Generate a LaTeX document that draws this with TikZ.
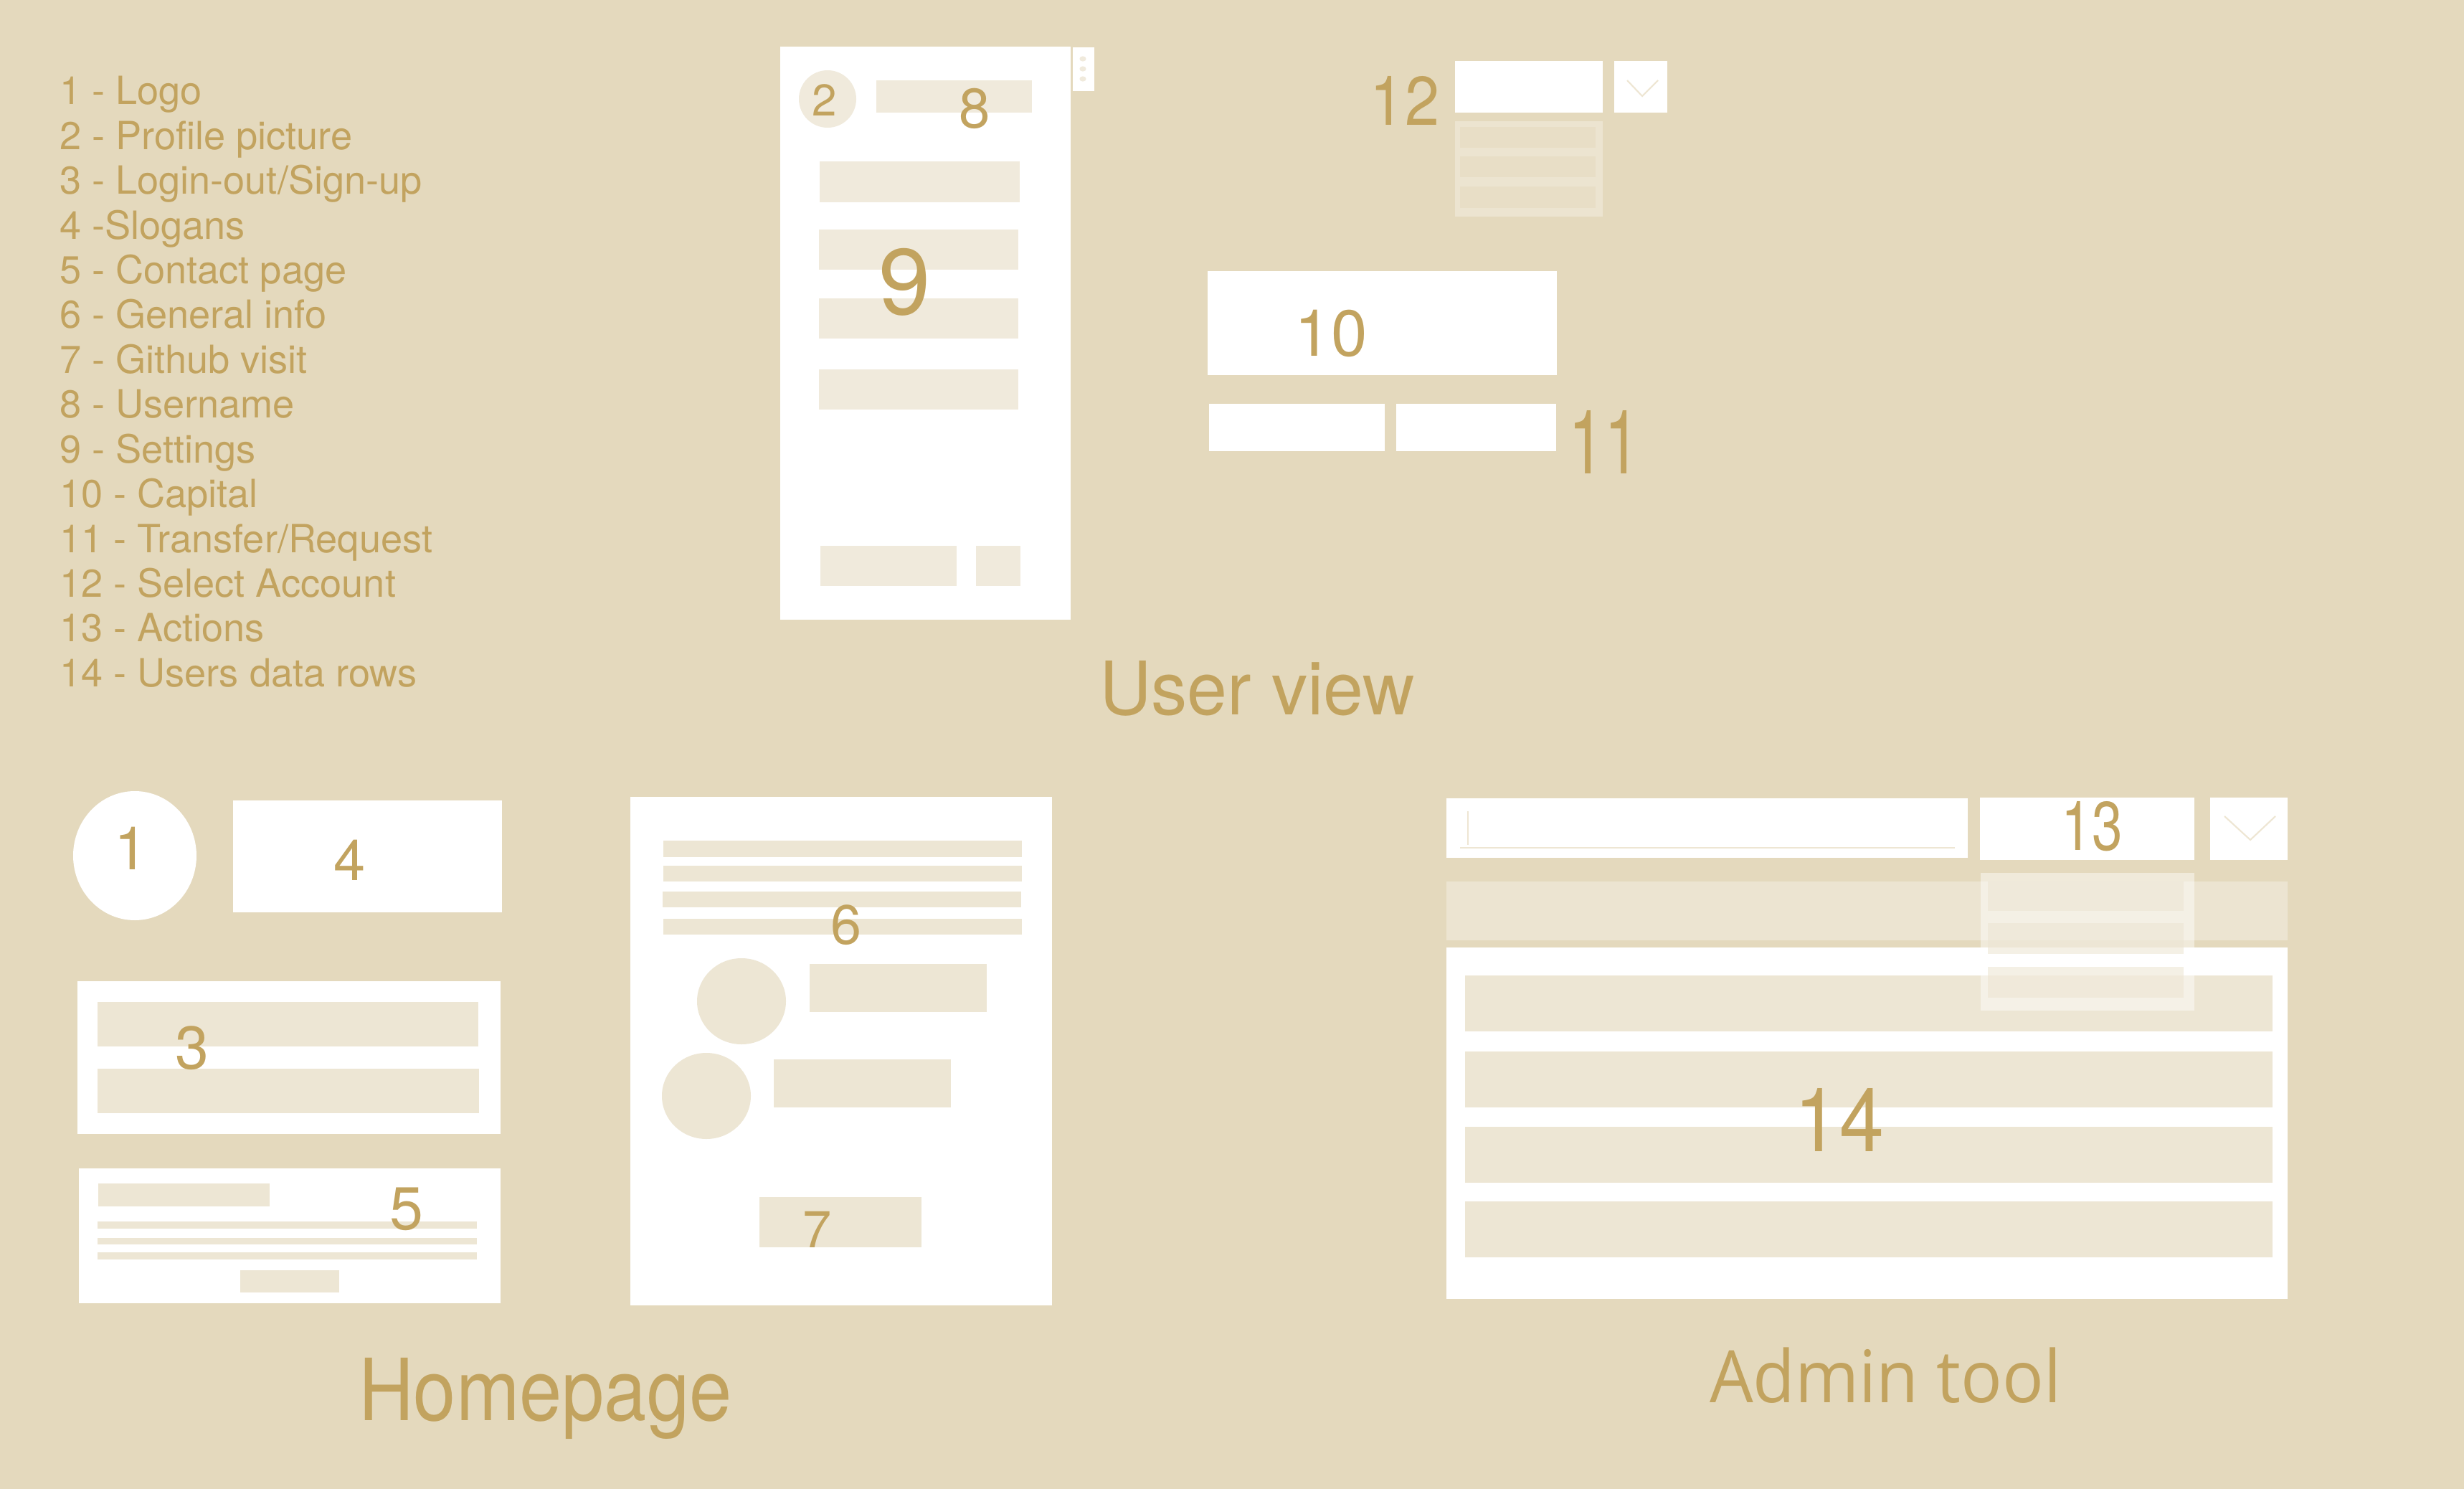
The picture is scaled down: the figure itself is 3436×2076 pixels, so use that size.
\documentclass[tikz,border=0pt]{standalone}
\usepackage{fontspec}
\setmainfont{TeX Gyre Heros}
\newfontfamily\admfont{Open Sans}
\definecolor{bg}{HTML}{E4D9BD}
\definecolor{gold}{HTML}{C2A35F}
\definecolor{ph}{HTML}{EDE6D4}
\definecolor{phl}{HTML}{F0EADC}
\definecolor{hdr}{HTML}{ECE4D1}
\definecolor{chevc}{HTML}{EEE6D3}
\newcommand\setfs[1]{\fontsize{#1pt}{#1pt}\selectfont}
\tikzset{
  lbl/.style={inner sep=0pt, outer sep=0pt, text=gold},
  legend/.style={lbl, font=\setfs{15.4}},
  title/.style={lbl, anchor=base west},
  chev/.style={draw=chevc, line width=0.6pt, line join=miter},
}
\begin{document}
\begin{tikzpicture}[x=0.01cm,y=-0.01cm]
\useasboundingbox (0,0) rectangle (3436,2076);
\fill[bg] (0,0) rectangle (3436,2076);

% ---------- legend ----------
\foreach \t [count=\i] in {1 - Logo,2 - Profile picture,3 - Login-out/Sign-up,4 -Slogans,5 - Contact page,6 - General info,7 - Github visit,8 - Username,9 - Settings,10 - Capital,11 - Transfer/Request,12 - Select Account,13 - Actions,14 - Users data rows}
  \node[legend, anchor=base west] (leg\i) at (83, {146+62.4*(\i-1)}) {\t};

% ---------- user view: phone ----------
\fill[white] (1088,65) rectangle (1493,864);
\fill[white] (1496,66) rectangle (1526,127);
\foreach \yy in {82,96,110} \fill[phl] (1510,\yy) ellipse (4.6 and 3.6);
\fill[phl] (1154,138) circle (40);
\fill[phl] (1222,112) rectangle (1439,157);
\fill[phl] (1143,225) rectangle (1422,282);
\fill[phl] (1142,320) rectangle (1420,376);
\fill[phl] (1142,416) rectangle (1420,472);
\fill[phl] (1142,515) rectangle (1420,571);
\fill[phl] (1144,761) rectangle (1334,817);
\fill[phl] (1361,761) rectangle (1423,817);
\node[lbl, font=\setfs{17.6}] (n2) at (1150,140) {2};
\node[lbl, font=\setfs{22.2}] (n8) at (1359,151) {8};
\node[lbl, font=\setfs{37}] (n9) at (1262,393) {9};

% ---------- user view: account selector ----------
\fill[white] (2029,85) rectangle (2235,157);
\fill[white] (2251,85) rectangle (2325,157);
\draw[chev] (2269,112) -- (2290,134) -- (2312,112);
\fill[white, opacity=0.3] (2029,169) rectangle (2235,302);
\fill[bg] (2036,177) rectangle (2225,206);
\fill[bg] (2036,218) rectangle (2225,247);
\fill[bg] (2036,260) rectangle (2225,290);
\fill[white, opacity=0.15] (2036,177) rectangle (2225,206);
\fill[white, opacity=0.15] (2036,218) rectangle (2225,247);
\fill[white, opacity=0.15] (2036,260) rectangle (2225,290);
\node[lbl, font=\setfs{27.3}, xscale=0.9] (n12) at (1959,140) {12};

% ---------- user view: capital and buttons ----------
\fill[white] (1684,378) rectangle (2171,523);
\fill[white] (1686,563) rectangle (1931,629);
\fill[white] (1947,563) rectangle (2170,629);
\node[lbl, font=\setfs{25.8}] (n10) at (1856,465) {10};
\node[lbl, font=\setfs{35.3}, xscale=0.72] (n11) at (2237,616) {11};

\node[title, font=\setfs{29.3}, xscale=0.975] (tuser) at (1533,996) {User view};

% ---------- homepage ----------
\fill[white] (188,1193) ellipse (86 and 90);
\node[lbl, font=\setfs{23.8}] (n1) at (183,1183) {1};
\fill[white] (325,1116) rectangle (700,1272);
\node[lbl, font=\setfs{22.6}] (n4) at (488,1199) {4};

\fill[white] (108,1368) rectangle (698,1581);
\fill[ph] (136,1397) rectangle (667,1459);
\fill[ph] (136,1490) rectangle (668,1552);
\node[lbl, font=\setfs{24}] (n3) at (268,1461) {3};

\fill[white] (110,1629) rectangle (698,1817);
\fill[ph] (137,1650) rectangle (376,1682);
\fill[ph] (136,1703) rectangle (665,1713);
\fill[ph] (136,1726) rectangle (665,1735);
\fill[ph] (136,1746) rectangle (665,1756);
\fill[ph] (335,1771) rectangle (473,1802);
\node[lbl, font=\setfs{24}] (n5) at (567,1686) {5};

\fill[white] (879,1111) rectangle (1467,1820);
\fill[ph] (925,1172) rectangle (1425,1195);
\fill[ph] (925,1207) rectangle (1425,1229);
\fill[ph] (924,1243) rectangle (1424,1265);
\fill[ph] (925,1281) rectangle (1425,1303);
\fill[ph] (1034,1396) ellipse (62 and 60);
\fill[ph] (985,1528) ellipse (62 and 60);
\fill[ph] (1129,1344) rectangle (1376,1411);
\fill[ph] (1079,1477) rectangle (1326,1544);
\fill[ph] (1059,1669) rectangle (1285,1739);
\node[lbl, font=\setfs{22}] (n6) at (1180,1290) {6};
\node[lbl, font=\setfs{20.6}] (n7) at (1140,1714) {7};

\node[title, font=\setfs{34}, xscale=0.89] (thome) at (500,1980) {Homepage};

% ---------- admin tool ----------
\fill[white] (2017,1113) rectangle (2744,1196);
\draw[chevc, line width=0.5pt] (2047,1131) -- (2047,1178);
\draw[chevc, line width=0.8pt] (2036,1182) -- (2726,1182);
\fill[white] (2761,1112) rectangle (3060,1199);
\fill[white] (3082,1112) rectangle (3190,1199);
\draw[chev] (3102,1138) -- (3138,1171) -- (3173,1138);
\node[lbl, font=\setfs{27.3}, xscale=0.8] (n13) at (2917,1152) {13};

\fill[hdr] (2017,1229) rectangle (3190,1311);
\fill[white] (2017,1321) rectangle (3190,1811);
\fill[ph] (2043,1360) rectangle (3169,1438);
\fill[ph] (2043,1466) rectangle (3169,1544);
\fill[ph] (2043,1571) rectangle (3169,1649);
\fill[ph] (2043,1675) rectangle (3169,1753);
\node[lbl, font=\setfs{35.3}, xscale=0.9] (n14) at (2565,1561) {14};

% dropdown of actions, laid over the table
\fill[white, opacity=0.45] (2762,1217) rectangle (3060,1409);
\foreach \ya/\yb in {1229/1270,1287/1330,1348/1391}
  \fill[hdr, opacity=0.55] (2772,\ya) rectangle (3045,\yb);

\node[title, font=\admfont\setfs{28.7}, xscale=0.95] (tadmin) at (2384,1955) {Admin tool};
\end{tikzpicture}
\end{document}
